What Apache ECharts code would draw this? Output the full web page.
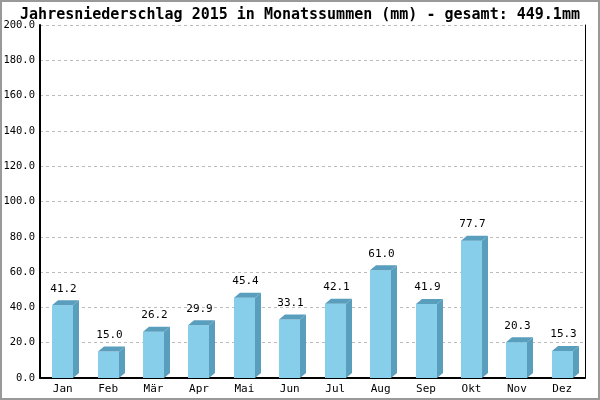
<!DOCTYPE html>
<html>
<head>
<meta charset="utf-8">
<script src="https://cdn.jsdelivr.net/npm/echarts@6/dist/echarts.min.js"></script>
<style>
html,body{margin:0;padding:0;background:#fff;}
#frame{width:600px;height:400px;box-sizing:border-box;border:2px solid #999;position:relative;}
#chart{position:absolute;left:-2px;top:-2px;width:600px;height:400px;}
</style>
</head>
<body>
<div id="frame"><div id="chart"></div></div>
<script>
const titleText = 'Jahresniederschlag 2015 in Monatssummen (mm) - gesamt: 449.1mm';
const categories = ['Jan','Feb','Mär','Apr','Mai','Jun','Jul','Aug','Sep','Okt','Nov','Dez'];
const values = [41.2,15.0,26.2,29.9,45.4,33.1,42.1,61.0,41.9,77.7,20.3,15.3];
const yMin = 0, yMax = 200, yInterval = 20;

const FONT = '"DejaVu Sans Mono", monospace';
const chart = echarts.init(document.getElementById('chart'));
const data = values.map((v, i) => [i, v]);

chart.setOption({
  animation: false,
  title: {
    text: titleText, left: 'center', top: 3,
    textStyle: {fontFamily: FONT, fontSize: 15, fontWeight: 'bold', color: '#000'}
  },
  grid: {left: 40, right: 15, top: 25, bottom: 22, containLabel: false},
  xAxis: {
    type: 'category', data: categories,
    axisLine: {lineStyle: {color: '#000', width: 2}},
    axisTick: {show: false},
    axisLabel: {fontFamily: FONT, fontSize: 11, color: '#000', margin: 6}
  },
  yAxis: [{
    type: 'value', min: yMin, max: yMax, interval: yInterval,
    axisLine: {show: true, lineStyle: {color: '#000', width: 2}},
    axisTick: {show: false},
    axisLabel: {fontFamily: FONT, fontSize: 10.5, color: '#000', margin: 5,
      formatter: v => v.toFixed(1)},
    splitLine: {show: true, lineStyle: {color: '#bbb', type: [3, 3], width: 1}}
  }, {
    type: 'value', min: yMin, max: yMax, interval: yInterval, position: 'right',
    axisLine: {show: true, lineStyle: {color: '#000', width: 1}},
    axisTick: {show: false}, axisLabel: {show: false}, splitLine: {show: false}
  }],
  series: [{
    type: 'custom',
    data: data,
    renderItem: function (params, api) {
      const idx = api.value(0), v = api.value(1);
      const top = api.coord([idx, v]);
      const base = api.coord([idx, 0]);
      const w = 21, dx = 6, dy = 5;
      const x0 = Math.round(top[0] - w / 2), x1 = x0 + w;
      const yt = top[1], yb = base[1];
      return {
        type: 'group',
        children: [
          {type: 'rect', shape: {x: x0, y: yt, width: w, height: yb - yt},
           style: {fill: '#87CEEB'}},
          {type: 'polygon', shape: {points: [[x1, yt], [x1 + dx, yt - dy], [x1 + dx, yb - dy], [x1, yb]]},
           style: {fill: '#5A9EBD'}},
          {type: 'polygon', shape: {points: [[x0, yt], [x0 + dx, yt - dy], [x1 + dx, yt - dy], [x1, yt]]},
           style: {fill: '#5A9EBD'}},
          {type: 'text', style: {x: x0 + w / 2 + 1, y: yt - dy - 6, text: v.toFixed(1),
            fontFamily: FONT, fontSize: 11, fill: '#000', align: 'center', verticalAlign: 'bottom'}}
        ]
      };
    }
  }]
});
</script>
</body>
</html>
